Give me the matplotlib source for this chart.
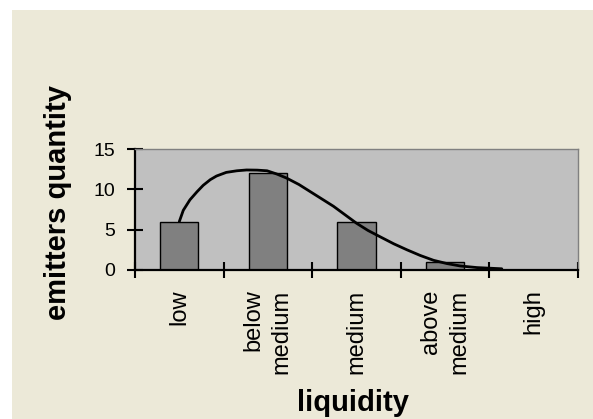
import matplotlib
matplotlib.use('Agg')
import matplotlib.pyplot as plt
from matplotlib.patches import Rectangle

plt.rcParams['font.family'] = ['Liberation Sans', 'DejaVu Sans']

# emitters per liquidity group
categories = ['low', 'below\nmedium', 'medium', 'above\nmedium', 'high']
counts = [6, 12, 6, 1, 0]

# fitted distribution curve (x in category units)
curve_x = [0, 0.045, 0.12, 0.2, 0.27, 0.35, 0.42, 0.53, 0.65, 0.76, 0.88, 0.99, 1.1, 1.21,
           1.35, 1.48, 1.61, 1.74, 1.87, 2.0, 2.13, 2.27, 2.42, 2.57, 2.72, 2.87, 3.02, 3.17,
           3.36, 3.64]
curve_y = [6, 7.4, 8.7, 9.7, 10.5, 11.2, 11.65, 12.1, 12.3, 12.4, 12.38, 12.3, 11.9, 11.4,
           10.6, 9.7, 8.8, 7.9, 6.85, 5.8, 4.9, 4.1, 3.25, 2.5, 1.8, 1.2, 0.8, 0.5, 0.3, 0.15]

yticks = [0, 5, 10, 15]

fig = plt.figure(figsize=(5.93, 4.19), dpi=100, facecolor='white')
fig.patches.append(Rectangle((12 / 593, 0), 1, 409 / 419, transform=fig.transFigure,
                             facecolor='#ECE9D8', edgecolor='none', zorder=-5))

ax = fig.add_axes([135 / 593, 1 - 270 / 419, 443 / 593, 121 / 419])
ax.set_facecolor('#C0C0C0')

pos = list(range(len(categories)))
ax.bar(pos, counts, width=0.43, color='#808080', edgecolor='black', linewidth=1, zorder=2)
ax.plot(curve_x, curve_y, color='black', linewidth=2, zorder=3,
        solid_joinstyle='round', solid_capstyle='round')

ax.set_xlim(-0.5, len(categories) - 0.5)
ax.set_ylim(0, 15)

# boundaries get tick marks, category centres get the labels
ax.set_xticks([p - 0.5 for p in pos] + [len(categories) - 0.5])
ax.set_xticklabels([])
ax.set_xticks(pos, minor=True)
ax.set_xticklabels(categories, minor=True, rotation=90, ha='center', va='top',
                   fontsize=17, linespacing=1.35)
for lbl in ax.get_xticklabels(minor=True):
    lbl.set_multialignment('right')
ax.tick_params(axis='x', which='minor', length=0, pad=14)
ax.tick_params(axis='x', which='major', direction='inout', length=11, width=1.5)

ax.set_yticks(yticks)
ax.tick_params(axis='y', direction='inout', length=11, width=1.5, labelsize=14, pad=9)

for side in ['left', 'bottom']:
    ax.spines[side].set_linewidth(1.6)
    ax.spines[side].set_color('black')
for side in ['top', 'right']:
    ax.spines[side].set_linewidth(1)
    ax.spines[side].set_color('#808080')

fig.text(58 / 593, 1 - 203 / 419, 'emitters quantity', rotation=90, ha='center', va='center',
         fontsize=21, fontweight='bold')
fig.text(353 / 593, 1 - 403 / 419, 'liquidity', ha='center', va='center',
         fontsize=21, fontweight='bold')

fig.savefig('out.png', dpi=100, facecolor=fig.get_facecolor())
